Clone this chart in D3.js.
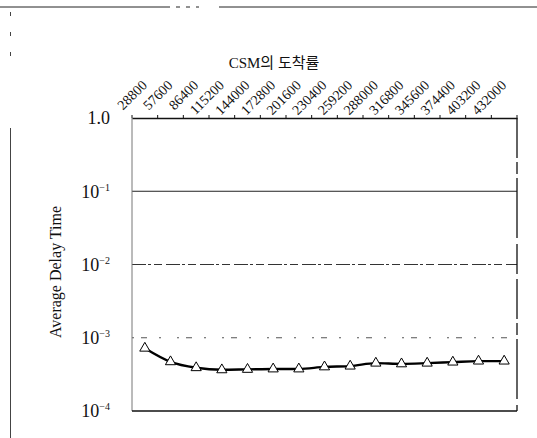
<!DOCTYPE html>
<html>
<head>
<meta charset="utf-8">
<script src="https://cdn.jsdelivr.net/npm/d3@7"></script>
<style>
  body { margin: 0; background: #fff; }
  svg { display: block; }
  text { font-family: "Liberation Serif", "Noto Sans CJK KR", serif; fill: #111; }
</style>
</head>
<body>
<div id="chart"></div>
<script>
// Dades
const categories = ["28800", "57600", "86400", "115200", "144000", "172800", "201600", "230400",
  "259200", "288000", "316800", "345600", "374400", "403200", "432000"];
const delayValues = [7.2e-4, 4.7e-4, 3.9e-4, 3.65e-4, 3.7e-4, 3.75e-4, 3.75e-4, 4.0e-4,
  4.1e-4, 4.5e-4, 4.4e-4, 4.5e-4, 4.65e-4, 4.8e-4, 4.8e-4];
const yTicks = [1, 1e-1, 1e-2, 1e-3, 1e-4];
const yTickExp = ["", "−1", "−2", "−3", "−4"];

const W = 537, H = 438;
const plot = { left: 132, right: 517, top: 118, bottom: 411 };

const svg = d3.select("#chart").append("svg")
  .attr("width", W).attr("height", H);

// marc exterior (escanejat)
svg.append("line").attr("x1", 0).attr("x2", W).attr("y1", 7).attr("y2", 7)
  .attr("stroke", "#222").attr("stroke-width", 1)
  .attr("stroke-dasharray", "170,6,4,6,4,6,3,20,400");
svg.append("line").attr("x1", 10.5).attr("x2", 10.5).attr("y1", 128).attr("y2", H)
  .attr("stroke", "#444").attr("stroke-width", 1);
svg.append("line").attr("x1", 10.5).attr("x2", 10.5).attr("y1", 12).attr("y2", 57)
  .attr("stroke", "#444").attr("stroke-dasharray", "4,16");

// Escales
const x = d3.scaleBand().domain(categories).range([plot.left, plot.right]);
const y = d3.scaleLog().domain([1e-4, 1]).range([plot.bottom, plot.top]);

// Línies de referència
const gridStyle = {
  0.1: { dash: null, color: "#222" },
  0.01: { dash: "14,2,3,3,8,4", color: "#333" },
  0.001: { dash: "2,7,6,12,2,16", color: "#555" }
};
svg.append("g").selectAll("line")
  .data([0.1, 0.01, 0.001])
  .join("line")
  .attr("x1", plot.left).attr("x2", plot.right)
  .attr("y1", d => y(d)).attr("y2", d => y(d))
  .attr("stroke", d => gridStyle[d].color)
  .attr("stroke-width", 1)
  .attr("stroke-dasharray", d => gridStyle[d].dash);

// Marc de l'àrea
svg.append("line").attr("x1", plot.left).attr("x2", plot.left)
  .attr("y1", plot.top).attr("y2", plot.bottom).attr("stroke", "#777").attr("stroke-width", 1);
svg.append("line").attr("x1", plot.right).attr("x2", plot.right)
  .attr("y1", plot.top).attr("y2", plot.bottom).attr("stroke", "#111").attr("stroke-width", 1.3)
  .attr("stroke-dasharray", "40,4,12,4,60,6,30,5");
svg.append("line").attr("x1", plot.left).attr("x2", plot.right)
  .attr("y1", plot.bottom).attr("y2", plot.bottom).attr("stroke", "#111").attr("stroke-width", 1.3);

// Eix superior
const xAxis = svg.append("g")
  .attr("transform", `translate(0,${plot.top})`)
  .call(d3.axisTop(x).tickSize(0).tickPadding(0));
xAxis.select(".domain").attr("stroke", "#111").attr("stroke-width", 1.3);
xAxis.selectAll("text")
  .attr("y", 0).attr("dy", 0)
  .attr("text-anchor", "end")
  .attr("transform", "translate(3,-32) rotate(-45)")
  .style("font-family", "Liberation Serif")
  .style("font-size", "14px")
  .attr("fill", "#111");

// marques als límits de cada categoria
const bounds = categories.map(c => x(c)).concat([x.range()[1]]);
svg.append("g").selectAll("line")
  .data(bounds)
  .join("line")
  .attr("x1", d => d).attr("x2", d => d)
  .attr("y1", plot.top).attr("y2", plot.top - 3)
  .attr("stroke", "#111");

// Eix Y
const yAxis = svg.append("g")
  .attr("transform", `translate(${plot.left},0)`)
  .call(d3.axisLeft(y).tickValues(yTicks).tickSize(0).tickPadding(22).tickFormat(() => ""));
yAxis.select(".domain").remove();
yAxis.selectAll(".tick text")
  .style("font-family", "Liberation Serif")
  .style("font-size", "18px")
  .attr("fill", "#111")
  .each(function(d, i) {
    const t = d3.select(this);
    if (i === 0) {
      t.text("1.0");
    } else {
      t.append("tspan").text("10");
      t.append("tspan").text(yTickExp[i])
        .style("font-size", "10px")
        .attr("dy", "-7");
    }
  });

// Títols
svg.append("text")
  .attr("x", 274).attr("y", 68)
  .attr("text-anchor", "middle")
  .style("font-size", "15px")
  .text("CSM의 도착률");

svg.append("text")
  .attr("transform", "translate(61,272) rotate(-90)")
  .attr("text-anchor", "middle")
  .style("font-size", "16px")
  .text("Average Delay Time");

// Sèrie
const points = categories.map((c, i) => ({ c, v: delayValues[i] }));
const line = d3.line()
  .x(d => x(d.c) + x.bandwidth() / 2)
  .y(d => y(d.v))
  .curve(d3.curveMonotoneX);

svg.append("path")
  .datum(points)
  .attr("fill", "none")
  .attr("stroke", "#000")
  .attr("stroke-width", 2.4)
  .attr("d", line);

const tri = d3.symbol().type(d3.symbolTriangle).size(45);
svg.append("g").selectAll("path")
  .data(points)
  .join("path")
  .attr("transform", d => `translate(${x(d.c) + x.bandwidth() / 2},${y(d.v)})`)
  .attr("d", tri)
  .attr("fill", "#fff")
  .attr("stroke", "#000")
  .attr("stroke-width", 1);
</script>
</body>
</html>
